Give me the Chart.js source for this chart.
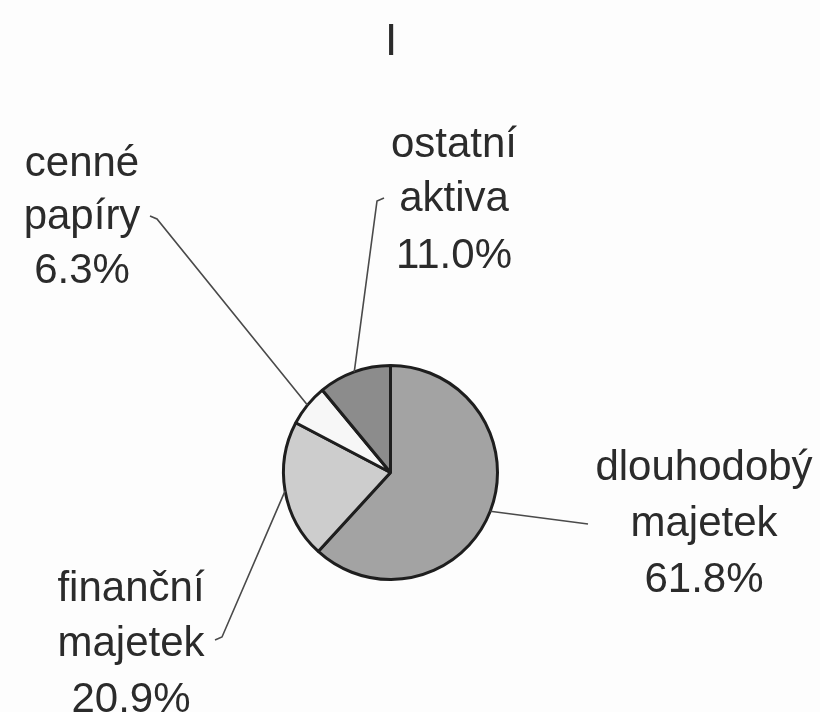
<!DOCTYPE html>
<html>
<head>
<meta charset="utf-8">
<script src="https://cdn.jsdelivr.net/npm/chart.js@4.4.1/dist/chart.umd.min.js"></script>
<style>
  html, body { margin: 0; padding: 0; background: #fdfdfd; }
  #wrap { width: 820px; height: 712px; position: relative; }
</style>
</head>
<body>
<div id="wrap"><canvas id="c" width="820" height="712"></canvas></div>
<script>
// ---- data ----
const chartTitle = "I";
const categories = [
  ["dlouhodobý", "majetek"],
  ["finanční", "majetek"],
  ["cenné", "papíry"],
  ["ostatní", "aktiva"]
];
const values = [61.8, 20.9, 6.3, 11.0];
const sliceColors = ["#a3a3a3", "#cdcdcd", "#f7f7f7", "#8c8c8c"];

// ---- label layout (positions only) ----
const labelLayout = [
  { cx: 704, baselines: [480, 536, 592], end: [588, 524], hook: null },
  { cx: 131, baselines: [601, 656, 712], end: [222, 637], hook: [215, 640] },
  { cx: 82,  baselines: [176, 229, 283], end: [157, 219], hook: [150, 216] },
  { cx: 454, baselines: [157, 211, 268], end: [377, 201], hook: [384, 198] }
];

const FONT = '42px "Liberation Sans", Arial, sans-serif';
const TEXT_COLOR = '#2b2b2b';

const labelPlugin = {
  id: 'pieLabels',
  afterDatasetsDraw(chart) {
    const ctx = chart.ctx;
    const meta = chart.getDatasetMeta(0);
    ctx.save();
    // title
    ctx.font = '44px "Liberation Sans", Arial, sans-serif';
    ctx.fillStyle = TEXT_COLOR;
    ctx.textAlign = 'center';
    ctx.textBaseline = 'alphabetic';
    ctx.fillText(chartTitle, 391, 55);

    meta.data.forEach((arc, i) => {
      const p = arc.getProps(['x', 'y', 'startAngle', 'endAngle', 'outerRadius'], true);
      const mid = (p.startAngle + p.endAngle) / 2;
      const sx = p.x + Math.cos(mid) * p.outerRadius;
      const sy = p.y + Math.sin(mid) * p.outerRadius;
      const lay = labelLayout[i];
      // leader line
      ctx.strokeStyle = '#4a4a4a';
      ctx.lineWidth = 1.6;
      ctx.beginPath();
      ctx.moveTo(sx, sy);
      ctx.lineTo(lay.end[0], lay.end[1]);
      if (lay.hook) ctx.lineTo(lay.hook[0], lay.hook[1]);
      ctx.stroke();
      // text
      ctx.font = FONT;
      ctx.fillStyle = TEXT_COLOR;
      ctx.textAlign = 'center';
      const lines = categories[i].concat([values[i].toFixed(1) + '%']);
      lines.forEach((t, k) => ctx.fillText(t, lay.cx, lay.baselines[k]));
    });
    ctx.restore();
  }
};

new Chart(document.getElementById('c'), {
  type: 'pie',
  data: {
    labels: categories.map(c => c.join(' ')),
    datasets: [{
      data: values,
      backgroundColor: sliceColors,
      borderColor: '#1e1e1e',
      borderWidth: 3,
      borderAlign: 'center',
      hoverOffset: 0
    }]
  },
  options: {
    responsive: false,
    animation: false,
    layout: { padding: { left: 282, right: 321, top: 364, bottom: 131 } },
    plugins: {
      legend: { display: false },
      tooltip: { enabled: false },
      title: { display: false }
    }
  },
  plugins: [labelPlugin]
});
</script>
</body>
</html>
